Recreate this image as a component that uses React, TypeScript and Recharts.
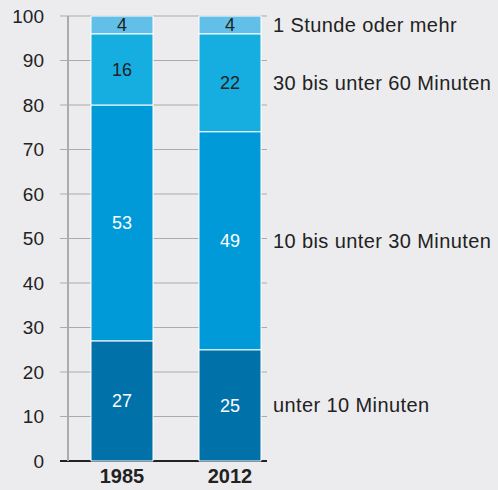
import {
  BarChart,
  Bar,
  XAxis,
  YAxis,
  CartesianGrid,
  LabelList,
} from 'recharts';

const years = ['1985', '2012'];
const under10 = [27, 25];
const from10to30 = [53, 49];
const from30to60 = [16, 22];
const hourOrMore = [4, 4];
const yTicks = [0, 10, 20, 30, 40, 50, 60, 70, 80, 90, 100];

const series = [
  { key: 'u10', name: 'unter 10 Minuten', values: under10, color: '#0071a9', text: '#ffffff' },
  { key: 'm10', name: '10 bis unter 30 Minuten', values: from10to30, color: '#009ad8', text: '#ffffff' },
  { key: 'm30', name: '30 bis unter 60 Minuten', values: from30to60, color: '#16aee0', text: '#222222' },
  { key: 'h1', name: '1 Stunde oder mehr', values: hourOrMore, color: '#62c0e8', text: '#222222' },
];

const data = years.map((year, i) => {
  const row: Record<string, string | number> = { year };
  series.forEach((s) => {
    row[s.key] = s.values[i];
  });
  return row;
});

const FONT = '"Liberation Sans", Arial, Helvetica, sans-serif';

// gridlines stop short of the plot's right edge; the 0 line is the dark baseline
const gridLine = (p: any) => {
  const isBase = Math.abs(p.y1 - (p.y + p.height)) < 1;
  return (
    <line
      key={p.key}
      x1={p.x1 - 8}
      x2={p.x2 - 17}
      y1={p.y1}
      y2={p.y2}
      stroke={isBase ? '#222222' : '#ababab'}
      strokeWidth={isBase ? 2 : 1}
    />
  );
};

const sideLabel = (name: string) => (props: any) => {
  const { x, y, width, height, index } = props;
  if (index !== 1) return null;
  return (
    <text
      x={Number(x) + Number(width) + 12}
      y={Number(y) + Number(height) / 2}
      dominantBaseline="central"
      textAnchor="start"
      fontSize={20}
      letterSpacing={0.4}
      fontFamily={FONT}
      fill="#222222"
    >
      {name}
    </text>
  );
};

export default function App() {
  return (
    <div
      style={{
        position: 'absolute',
        left: 0,
        top: 0,
        width: 498,
        height: 490,
        background: '#ececee',
      }}
    >
      <BarChart
        width={498}
        height={490}
        data={data}
        margin={{ top: 16, right: 214, left: 0, bottom: 0 }}
      >
        <CartesianGrid horizontal={gridLine} vertical={false} />
        <XAxis
          dataKey="year"
          axisLine={false}
          tickLine={false}
          height={29}
          tick={{ fontSize: 20, fontWeight: 'bold', fill: '#222222', fontFamily: FONT }}
        />
        <YAxis
          domain={[0, 100]}
          ticks={yTicks}
          width={68}
          tickLine={false}
          tickSize={8}
          tickMargin={16}
          axisLine={{ stroke: '#ababab', strokeWidth: 2 }}
          tick={{ fontSize: 19, fill: '#222222', fontFamily: FONT }}
        />
        {series.map((s) => (
          <Bar
            key={s.key}
            dataKey={s.key}
            stackId="a"
            fill={s.color}
            stroke="#ffffff"
            strokeWidth={1}
            barSize={62}
            isAnimationActive={false}
          >
            <LabelList
              dataKey={s.key}
              position="center"
              fill={s.text}
              fontSize={18}
              fontFamily={FONT}
            />
            <LabelList dataKey={s.key} content={sideLabel(s.name)} />
          </Bar>
        ))}
      </BarChart>
    </div>
  );
}
